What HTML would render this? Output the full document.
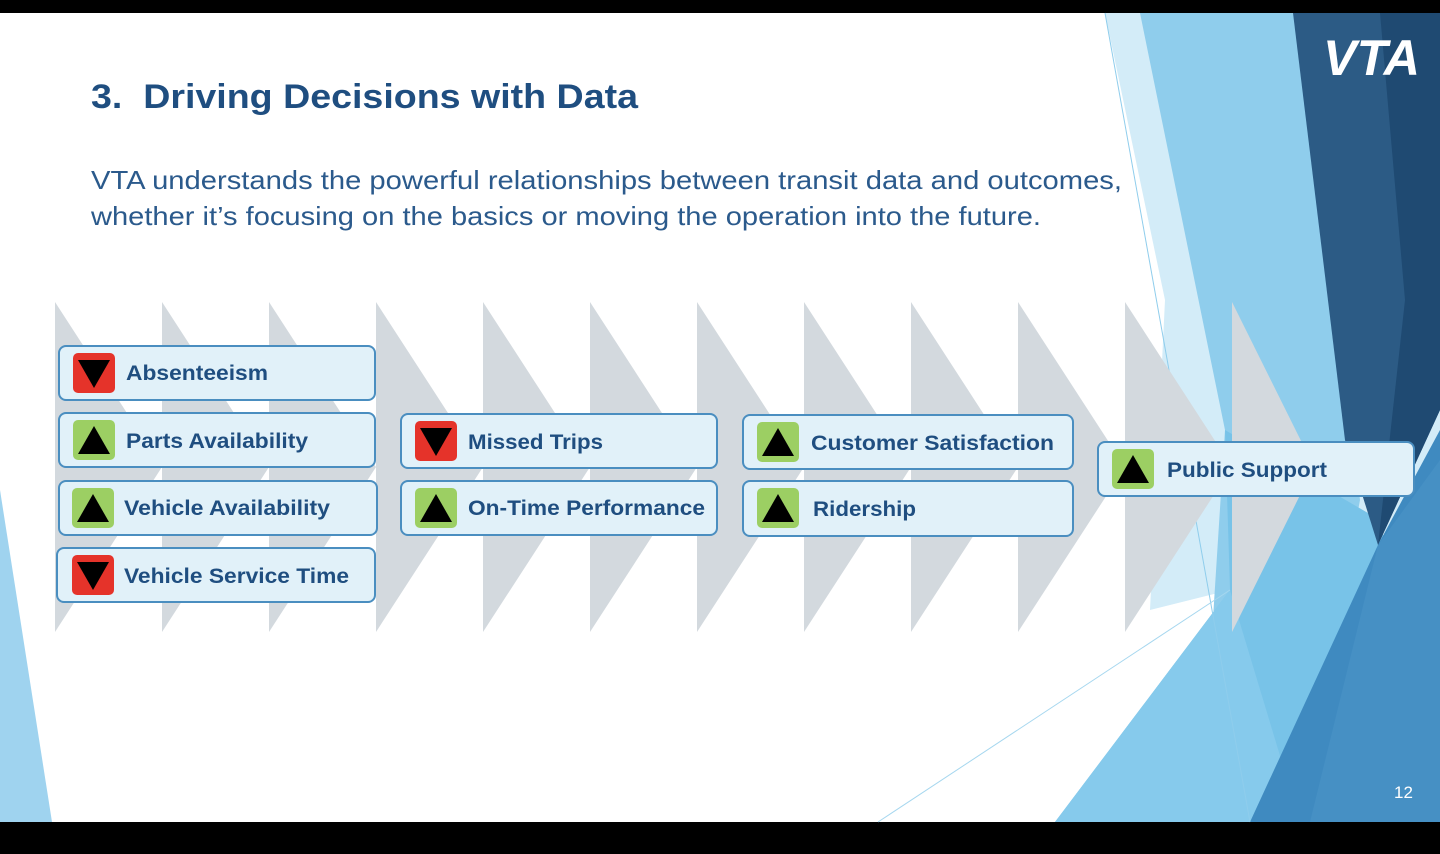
<!DOCTYPE html>
<html><head><meta charset="utf-8"><style>html,body{margin:0;padding:0;background:#000}svg{display:block}</style></head>
<body>
<svg width="1440" height="854" viewBox="0 0 1440 854" xmlns="http://www.w3.org/2000/svg" font-family="Liberation Sans, sans-serif">
<rect x="0" y="0" width="1440" height="854" fill="#000"/>
<rect x="0" y="13" width="1440" height="809" fill="#fff"/>
<polygon points="0,490 52,822 0,822" fill="#9fd3ef"/>
<polygon points="1105,13 1440,13 1440,822 1055,822 1230,590 1150,610 1165,300" fill="#d3ecf8"/>
<polygon points="1140,13 1300,13 1360,500 1300,822 1200,822 1225,430" fill="#8fcdec"/>
<polygon points="1225,430 1380,520 1440,822 1055,822 1230,590" fill="#78c3e8"/>
<polygon points="1055,822 1230,590 1300,822" fill="#86caec"/>
<polygon points="1250,822 1378,545 1440,430 1440,822" fill="#3f8ac0"/>
<polygon points="1310,822 1378,545 1440,460 1440,822" fill="#4690c4"/>
<polygon points="1293,13 1440,13 1440,410 1378,545 1345,440" fill="#2c5b85"/>
<polygon points="1380,13 1440,13 1440,410 1378,545 1405,300" fill="#1f4a72"/>
<line x1="1105" y1="13" x2="1250" y2="822" stroke="#8fcdec" stroke-width="1"/>
<line x1="878" y1="822" x2="1230" y2="590" stroke="#a6d7ef" stroke-width="1"/>
<g fill="#d3d9de">
<polygon points="55,302 162,467 55,632"/>
<polygon points="162,302 269,467 162,632"/>
<polygon points="269,302 376,467 269,632"/>
<polygon points="376,302 483,467 376,632"/>
<polygon points="483,302 590,467 483,632"/>
<polygon points="590,302 697,467 590,632"/>
<polygon points="697,302 804,467 697,632"/>
<polygon points="804,302 911,467 804,632"/>
<polygon points="911,302 1018,467 911,632"/>
<polygon points="1018,302 1125,467 1018,632"/>
<polygon points="1125,302 1232,467 1125,632"/>
<polygon points="1232,302 1314,467 1232,632"/>
</g>
<text x="91" y="108" font-size="34" font-weight="bold" fill="#1f4e80" textLength="547" lengthAdjust="spacingAndGlyphs" xml:space="preserve">3.  Driving Decisions with Data</text>
<text x="91" y="189" font-size="26" fill="#2b5a8c" textLength="1031" lengthAdjust="spacingAndGlyphs">VTA understands the powerful relationships between transit data and outcomes,</text>
<text x="91" y="225" font-size="26" fill="#2b5a8c" textLength="950" lengthAdjust="spacingAndGlyphs">whether it’s focusing on the basics or moving the operation into the future.</text>
<g stroke="#4a8ec0" stroke-width="2" fill="#e1f1f9">
<rect x="59" y="346" width="316" height="54" rx="7"/>
<rect x="59" y="413" width="316" height="54" rx="7"/>
<rect x="59" y="481" width="318" height="54" rx="7"/>
<rect x="57" y="548" width="318" height="54" rx="7"/>
<rect x="401" y="414" width="316" height="54" rx="7"/>
<rect x="401" y="481" width="316" height="54" rx="7"/>
<rect x="743" y="415" width="330" height="54" rx="7"/>
<rect x="743" y="481" width="330" height="55" rx="7"/>
<rect x="1098" y="442" width="316" height="54" rx="7"/>
</g>
<g>
<rect x="73" y="353" width="42" height="40" rx="5" fill="#e5332a"/><polygon points="78,360 110,360 94,388" fill="#000"/>
<rect x="73" y="420" width="42" height="40" rx="5" fill="#9ccf63"/><polygon points="78,454 110,454 94,426" fill="#000"/>
<rect x="72" y="488" width="42" height="40" rx="5" fill="#9ccf63"/><polygon points="77,522 109,522 93,494" fill="#000"/>
<rect x="72" y="555" width="42" height="40" rx="5" fill="#e5332a"/><polygon points="77,562 109,562 93,590" fill="#000"/>
<rect x="415" y="421" width="42" height="40" rx="5" fill="#e5332a"/><polygon points="420,428 452,428 436,456" fill="#000"/>
<rect x="415" y="488" width="42" height="40" rx="5" fill="#9ccf63"/><polygon points="420,522 452,522 436,494" fill="#000"/>
<rect x="757" y="422" width="42" height="40" rx="5" fill="#9ccf63"/><polygon points="762,456 794,456 778,428" fill="#000"/>
<rect x="757" y="488" width="42" height="40" rx="5" fill="#9ccf63"/><polygon points="762,522 794,522 778,494" fill="#000"/>
<rect x="1112" y="449" width="42" height="40" rx="5" fill="#9ccf63"/><polygon points="1117,483 1149,483 1133,455" fill="#000"/>
</g>
<g font-size="21" font-weight="bold" fill="#1f4e80">
<text x="126" y="380" textLength="142" lengthAdjust="spacingAndGlyphs">Absenteeism</text>
<text x="126" y="448" textLength="182" lengthAdjust="spacingAndGlyphs">Parts Availability</text>
<text x="124" y="515" textLength="206" lengthAdjust="spacingAndGlyphs">Vehicle Availability</text>
<text x="124" y="583" textLength="225" lengthAdjust="spacingAndGlyphs">Vehicle Service Time</text>
<text x="468" y="449" textLength="135" lengthAdjust="spacingAndGlyphs">Missed Trips</text>
<text x="468" y="515" textLength="237" lengthAdjust="spacingAndGlyphs">On-Time Performance</text>
<text x="811" y="450" textLength="243" lengthAdjust="spacingAndGlyphs">Customer Satisfaction</text>
<text x="813" y="516" textLength="103" lengthAdjust="spacingAndGlyphs">Ridership</text>
<text x="1167" y="477" textLength="160" lengthAdjust="spacingAndGlyphs">Public Support</text>
</g>
<text x="1323" y="75" font-size="50" font-weight="bold" font-style="italic" fill="#fff" textLength="97" lengthAdjust="spacingAndGlyphs">VTA</text>
<text x="1394" y="798" font-size="17" fill="#fff">12</text>
</svg>
</body></html>
